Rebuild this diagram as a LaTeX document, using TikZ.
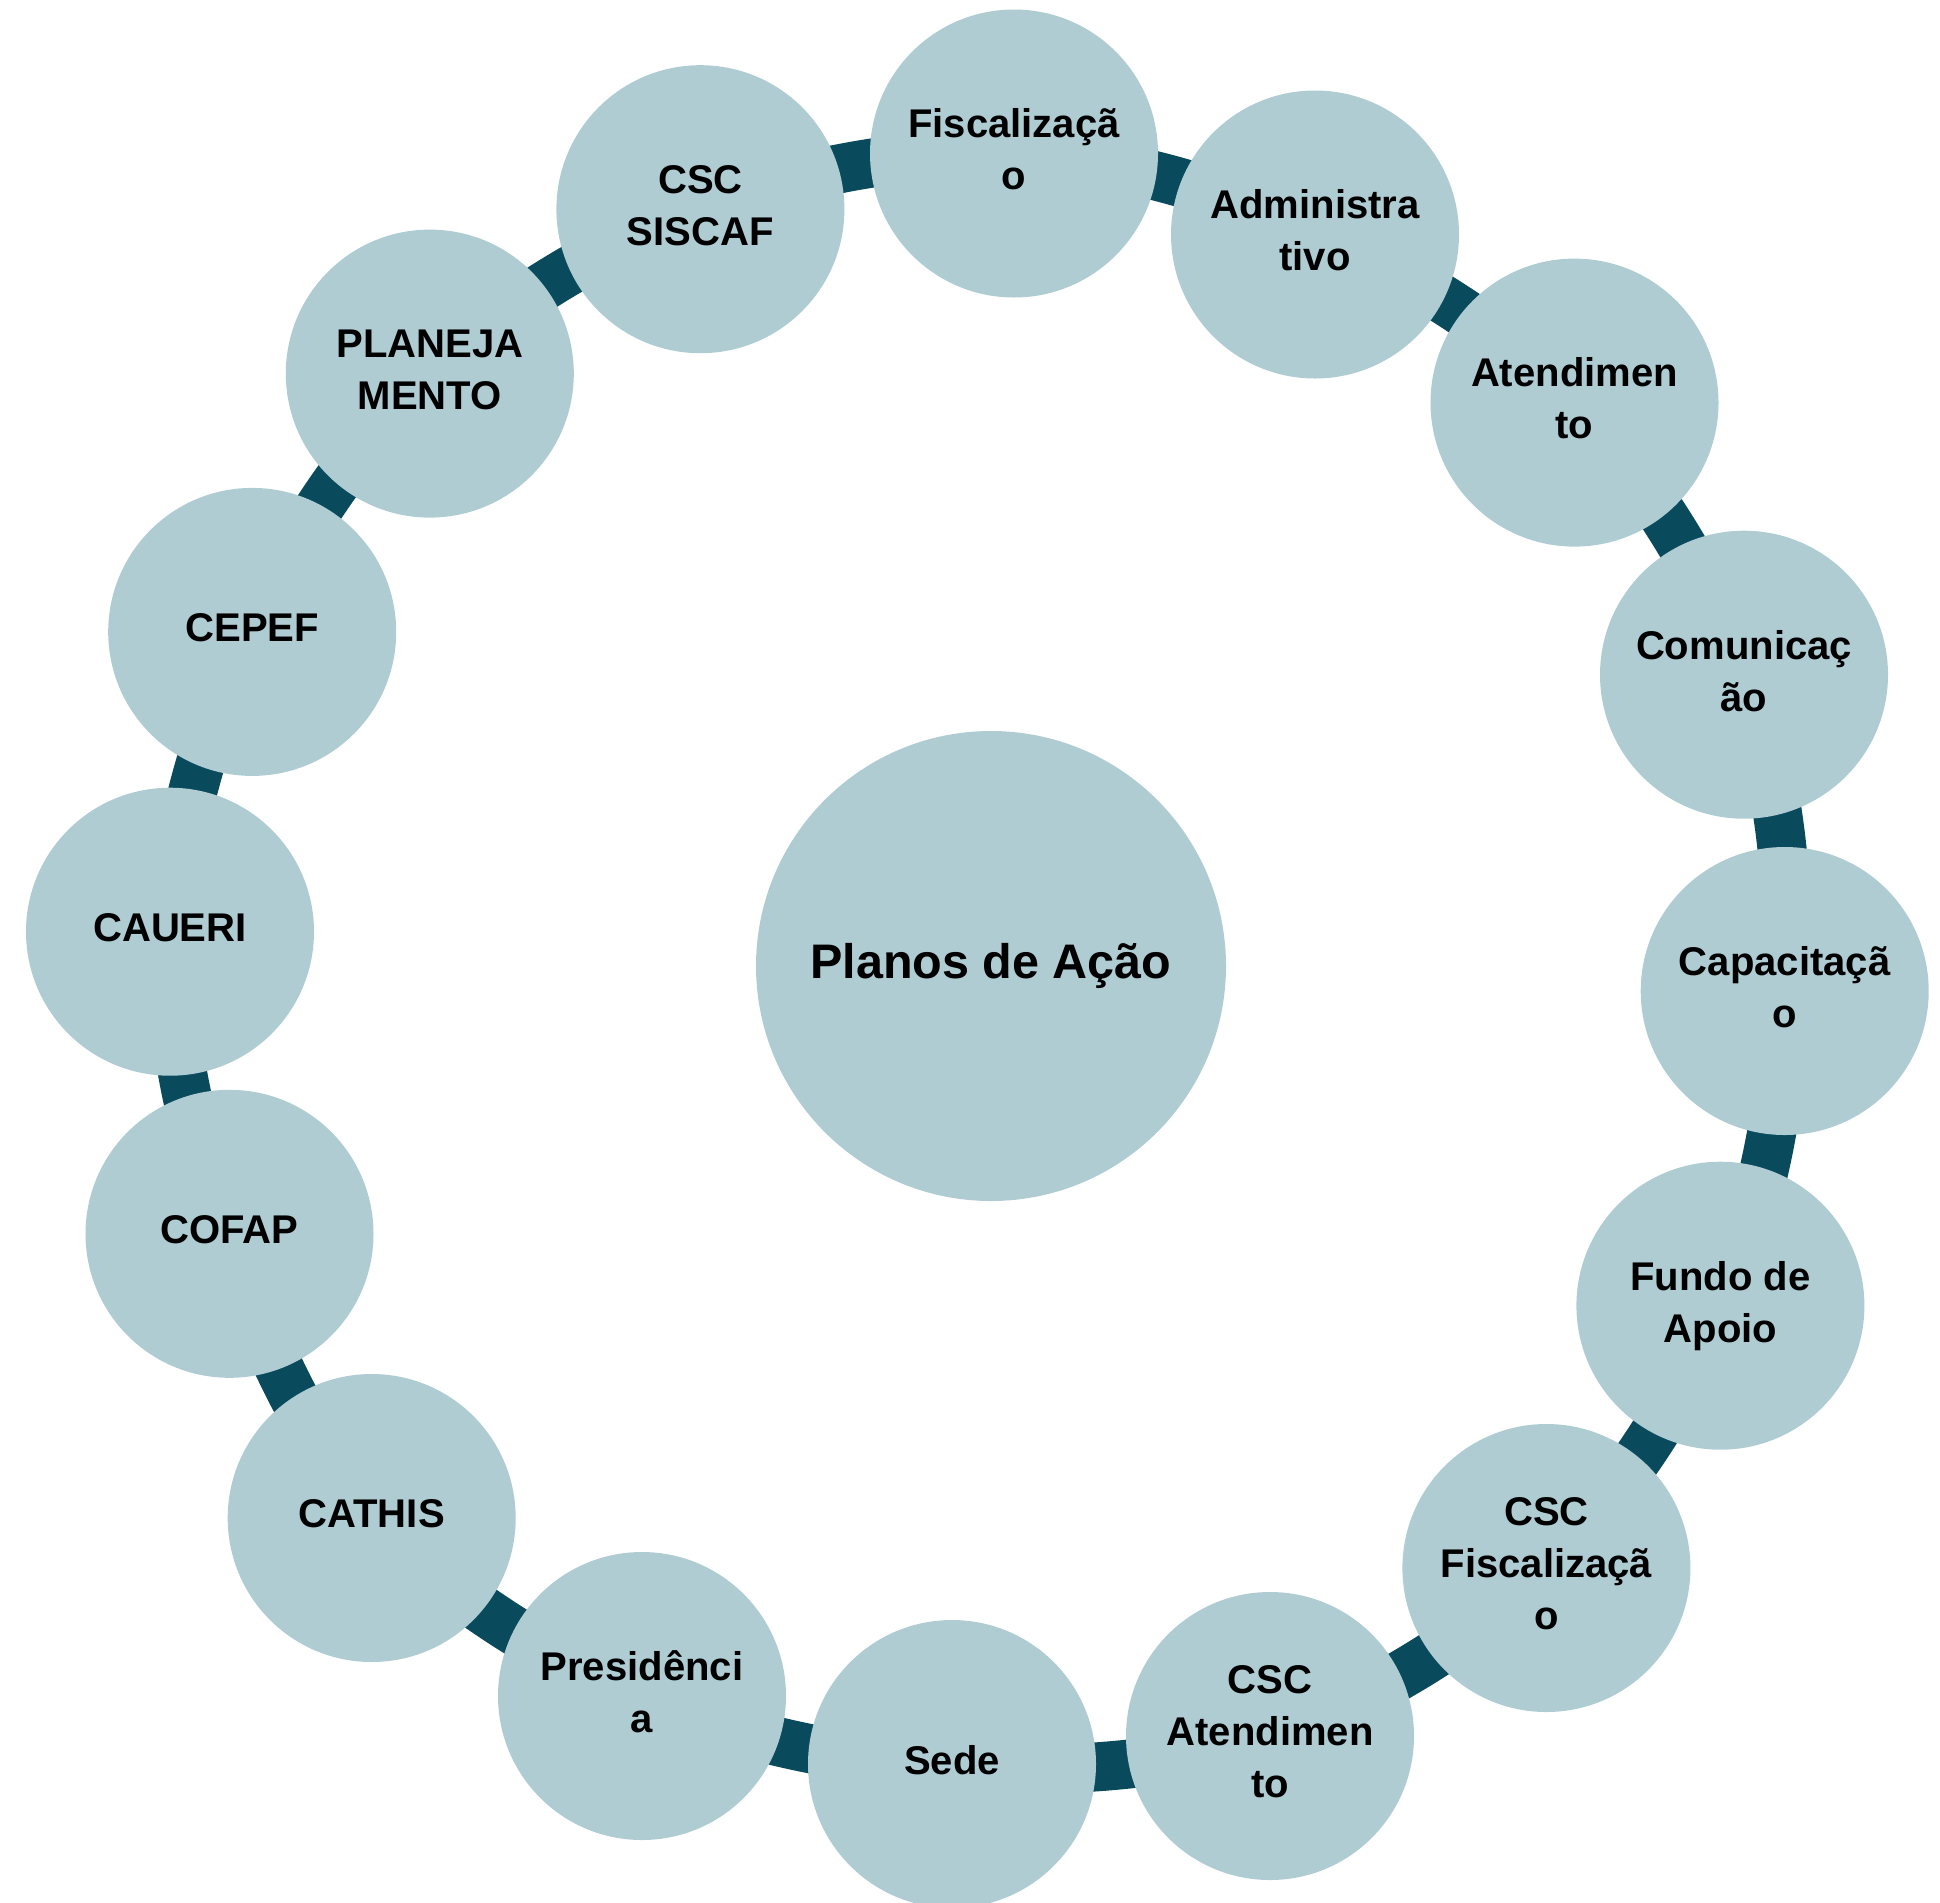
\documentclass[tikz,border=0pt]{standalone}
\usepackage{fontspec}
\setmainfont{Liberation Sans}
\usetikzlibrary{backgrounds}
\definecolor{discfill}{HTML}{AFCCD3}
\definecolor{bandcol}{HTML}{0A4A5D}
\begin{document}
\begin{tikzpicture}[disc/.style={circle,fill=discfill,inner sep=0pt,minimum size=2.88cm,align=center,font={\fontsize{11.4}{14.8}\selectfont\bfseries}},
  hubdisc/.style={circle,fill=discfill,inner sep=0pt,minimum size=4.7cm,font={\fontsize{13.8}{16.5}\selectfont\bfseries}},
  band/.style={draw=bandcol,line width=0.49cm}]
\useasboundingbox (0,0) rectangle (19.4,-19.02);
\node[hubdisc] (hub) at (9.91,-9.66) {Planos de Ação};
\foreach \i/\x/\y/\lbl in {0/10.14/1.535/{Fiscalizaçã\\o},1/13.15/2.345/{Administra\\tivo},2/15.745/4.026/{Atendimen\\to},3/17.44/6.747/{Comunicaç\\ão},4/17.847/9.91/{Capacitaçã\\o},5/17.204/13.057/{Fundo de\\Apoio},6/15.464/15.68/{CSC\\Fiscalizaçã\\o},7/12.70/17.36/{CSC\\Atendimen\\to},8/9.52/17.64/{Sede},9/6.42/16.96/{Presidênci\\a},10/3.717/15.18/{CATHIS},11/2.295/12.338/{COFAP},12/1.70/9.317/{CAUERI},13/2.522/6.319/{CEPEF},14/4.298/3.736/{PLANEJA\\MENTO},15/7.004/2.092/{CSC\\SISCAF}}
  {\node[disc] (p\i) at (\x,-\y) {\lbl\vphantom{p}};}
\begin{scope}[on background layer]
\foreach \i [evaluate=\i as \j using {int(mod(\i+1,16))}] in {0,...,15}
  {\draw[band] (p\i.center) to[bend left=11.25,looseness=0.86] (p\j.center);}
\end{scope}
\end{tikzpicture}
\end{document}
